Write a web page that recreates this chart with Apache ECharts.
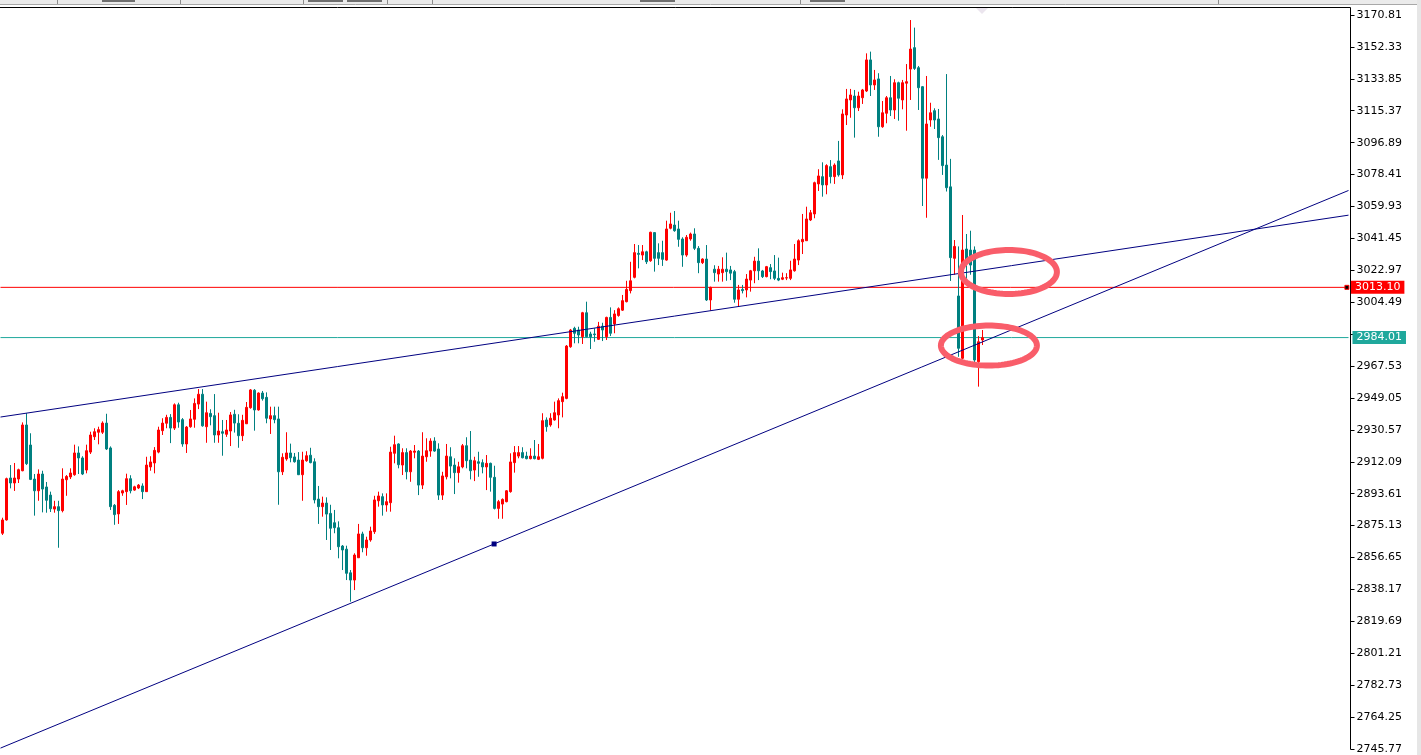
<!DOCTYPE html>
<html>
<head>
<meta charset="utf-8">
<script src="https://cdn.jsdelivr.net/npm/echarts@6/dist/echarts.min.js"></script>
<style>
html,body{margin:0;padding:0;background:#fff;}
#chart{width:1421px;height:755px;}
</style>
</head>
<body>
<div id="chart"></div>
<script>
// ---- data (hourly bars) ----
const opens = [
2870.7,2878.4,2902.7,2899.8,2902.1,2906.9,2933.4,2921.8,2902.1,2895.3,
2905.0,2897.5,2892.8,2884.7,2886.1,2883.8,2901.7,2903.3,2904.6,2917.2,
2914.3,2907.3,2917.7,2926.6,2929.2,2929.2,2934.5,2920.1,2886.9,2881.9,
2894.0,2894.8,2902.3,2895.7,2896.9,2898.1,2894.8,2909.1,2911.4,2917.7,
2930.1,2934.4,2937.8,2931.6,2945.1,2936.5,2922.4,2932.4,2936.7,2945.5,
2951.2,2932.4,2940.1,2938.8,2927.6,2929.5,2928.0,2929.9,2939.6,2934.4,
2927.2,2934.1,2943.4,2953.5,2942.1,2951.9,2949.4,2936.9,2938.8,2936.9,
2906.3,2913.7,2917.2,2914.9,2913.1,2904.6,2912.7,2915.9,2912.1,2890.5,
2886.1,2888.2,2882.2,2876.8,2873.9,2863.3,2861.5,2847.8,2843.6,2856.5,
2870.3,2862.3,2866.8,2871.6,2889.5,2891.9,2887.1,2888.4,2917.0,2922.4,
2910.2,2917.4,2906.3,2917.6,2918.3,2898.6,2915.0,2918.3,2924.1,2919.5,
2892.8,2903.4,2915.0,2910.2,2905.8,2909.1,2921.4,2913.1,2907.3,2912.1,
2911.6,2909.1,2911.2,2903.1,2885.1,2887.6,2889.0,2894.8,2911.6,2915.4,
2917.4,2915.4,2913.9,2915.4,2913.5,2914.1,2936.3,2933.4,2936.3,2939.2,
2946.9,2948.8,2978.7,2989.4,2988.4,2984.5,2998.4,2986.1,2986.1,2983.0,
2990.6,2984.5,2995.7,2991.9,2996.8,2999.9,3004.8,3011.2,3018.9,3032.8,
3031.8,3033.7,3028.5,3044.8,3033.2,3033.2,3028.9,3047.3,3049.2,3046.9,
3041.1,3031.8,3041.1,3044.0,3035.7,3027.4,3029.5,3005.8,3023.6,3020.8,
3021.6,3023.6,3023.2,3022.2,3006.2,3011.9,3011.6,3017.3,3022.7,3028.3,
3022.6,3019.3,3024.5,3022.6,3018.3,3017.8,3018.5,3018.3,3022.7,3028.9,
3039.5,3040.1,3052.1,3055.6,3073.0,3077.2,3072.4,3083.0,3077.2,3086.3,
3078.2,3112.9,3121.6,3123.9,3117.1,3122.9,3126.8,3144.8,3130.3,3133.8,
3106.1,3113.9,3122.9,3115.8,3131.6,3121.6,3131.3,3139.5,3151.9,3140.3,
3129.3,3076.3,3110.0,3115.4,3110.6,3100.3,3083.9,3071.3,3029.9,3008.1,
2972.0,3035.3,3034.7,3034.7,2970.0,2982.6];
const highs = [
2879.7,2902.9,2910.2,2911.4,2908.1,2934.9,2940.2,2928.6,2905.0,2907.7,
2906.9,2900.4,2894.8,2889.5,2889.5,2908.3,2904.4,2908.3,2922.0,2921.0,
2915.3,2922.0,2929.5,2931.5,2932.4,2935.5,2939.9,2921.0,2887.6,2895.7,
2895.9,2905.2,2904.3,2898.2,2899.2,2899.6,2915.0,2915.3,2920.6,2932.4,
2937.3,2939.3,2939.7,2945.9,2946.3,2937.4,2932.8,2942.1,2948.8,2954.2,
2954.2,2946.9,2942.5,2951.3,2940.5,2936.3,2936.3,2940.9,2942.2,2939.6,
2939.3,2946.7,2954.2,2954.2,2952.3,2953.1,2952.3,2944.0,2944.0,2944.0,
2917.0,2929.2,2922.6,2917.2,2917.7,2917.9,2918.2,2920.2,2914.1,2898.1,
2891.9,2891.5,2887.2,2884.2,2877.6,2863.9,2863.5,2849.4,2859.1,2876.1,
2871.6,2868.7,2874.5,2892.4,2894.8,2893.8,2893.8,2920.8,2927.2,2922.8,
2919.9,2919.9,2918.9,2921.8,2918.9,2929.2,2925.7,2925.7,2926.3,2922.8,
2906.3,2922.4,2920.5,2914.1,2912.1,2922.4,2926.3,2929.9,2915.0,2917.9,
2913.5,2916.0,2911.6,2909.8,2890.0,2890.9,2895.7,2917.0,2921.2,2921.2,
2920.5,2917.9,2919.9,2924.7,2922.4,2940.2,2937.8,2940.2,2946.9,2948.8,
2952.1,2979.7,2989.0,2990.3,2990.3,2998.9,3004.8,2987.4,2989.4,2993.1,
2992.6,2996.1,3001.5,2999.9,3001.5,3008.7,3016.9,3027.9,3038.2,3037.6,
3037.6,3034.3,3045.3,3045.0,3038.6,3040.1,3051.7,3056.3,3057.3,3051.7,
3042.1,3043.4,3044.8,3047.3,3037.0,3029.9,3037.6,3013.5,3025.9,3025.5,
3030.5,3033.2,3025.5,3023.2,3014.5,3014.5,3020.8,3023.2,3030.8,3035.7,
3023.2,3025.5,3026.6,3031.8,3030.3,3021.6,3021.3,3028.5,3038.2,3040.9,
3055.6,3059.8,3057.9,3074.3,3081.5,3085.5,3084.4,3086.8,3084.9,3097.9,
3116.2,3128.0,3128.0,3127.4,3126.4,3128.0,3148.6,3149.6,3139.0,3137.1,
3121.0,3123.9,3135.5,3133.6,3132.2,3133.2,3142.4,3167.9,3163.5,3141.3,
3129.7,3135.5,3120.0,3116.8,3116.4,3101.3,3136.6,3087.5,3040.5,3036.8,
3055.0,3044.0,3045.9,3036.8,2984.9,2988.4];
const lows = [
2869.7,2878.0,2896.7,2895.2,2899.8,2906.6,2910.2,2901.5,2880.9,2889.5,
2882.8,2882.6,2883.0,2882.6,2862.3,2882.8,2892.4,2902.1,2904.0,2905.0,
2904.4,2905.4,2916.6,2924.7,2922.2,2928.2,2918.9,2884.2,2875.6,2876.1,
2892.4,2887.1,2893.8,2895.3,2896.3,2890.5,2894.6,2906.9,2905.4,2917.0,
2927.6,2931.5,2922.9,2930.5,2931.8,2920.8,2917.2,2931.8,2931.8,2942.6,
2932.4,2923.1,2933.2,2923.1,2923.1,2915.6,2926.5,2921.2,2929.0,2920.2,
2924.1,2934.1,2942.8,2930.1,2941.7,2947.5,2934.4,2928.2,2934.4,2887.2,
2904.4,2912.7,2911.8,2911.6,2904.4,2889.5,2912.1,2911.2,2888.0,2876.1,
2880.3,2866.8,2861.0,2870.7,2856.2,2849.4,2843.6,2831.1,2837.8,2856.5,
2859.7,2857.7,2865.8,2870.3,2886.1,2880.9,2883.2,2883.2,2911.2,2908.3,
2904.4,2901.9,2900.5,2914.1,2892.8,2896.3,2912.1,2915.0,2917.9,2890.0,
2890.0,2901.9,2902.5,2893.4,2900.0,2908.3,2908.3,2901.9,2900.9,2903.4,
2905.4,2895.7,2894.8,2884.5,2879.1,2879.1,2888.6,2894.2,2905.8,2914.1,
2914.1,2913.5,2913.5,2913.5,2913.1,2913.5,2929.5,2932.4,2935.9,2931.5,
2937.8,2948.3,2978.1,2980.7,2980.7,2980.3,2984.1,2977.4,2981.6,2982.6,
2982.0,2982.6,2984.9,2986.5,2996.1,2999.4,3004.4,3009.6,3018.3,3024.1,
3028.9,3026.6,3027.9,3022.2,3026.0,3025.5,3028.5,3046.7,3045.3,3036.6,
3025.0,3030.8,3040.1,3034.7,3021.3,3026.6,3005.2,2999.6,3016.4,3016.4,
3016.4,3016.9,3017.3,3004.2,3001.8,3009.6,3007.3,3010.6,3015.5,3017.3,
3018.5,3018.9,3017.8,3017.3,3016.7,3017.3,3017.3,3017.3,3022.2,3026.0,
3032.4,3040.1,3051.5,3053.1,3068.9,3065.6,3067.0,3073.3,3073.0,3077.2,
3075.8,3107.1,3111.3,3099.8,3115.2,3119.3,3126.2,3123.9,3127.4,3100.3,
3105.5,3108.1,3112.3,3110.6,3109.6,3116.2,3103.8,3121.6,3139.0,3115.8,
3060.2,3053.4,3106.1,3104.8,3086.9,3078.2,3068.6,3016.8,3020.4,2972.9,
2971.6,3015.6,3020.4,2969.9,2955.6,2979.7];
const closes = [
2878.4,2902.3,2899.8,2902.7,2907.5,2933.4,2911.0,2901.9,2895.3,2905.0,
2896.3,2889.8,2884.9,2886.1,2883.8,2902.1,2903.6,2905.6,2917.2,2914.3,
2905.0,2918.5,2927.6,2929.5,2930.7,2934.5,2919.5,2886.1,2881.5,2894.8,
2895.3,2902.3,2895.3,2897.6,2898.6,2894.8,2910.2,2912.0,2918.7,2930.5,
2934.5,2937.8,2931.6,2945.1,2935.1,2922.4,2932.2,2936.9,2945.9,2951.2,
2932.9,2940.5,2938.2,2927.6,2929.9,2928.6,2930.5,2939.2,2934.5,2927.2,
2936.1,2943.6,2953.7,2942.1,2951.9,2948.6,2937.3,2938.8,2936.5,2906.3,
2914.7,2917.2,2914.4,2912.1,2904.6,2913.1,2915.6,2911.6,2890.0,2886.1,
2888.2,2881.8,2873.6,2873.9,2862.9,2861.0,2847.5,2843.6,2858.1,2870.3,
2862.3,2866.8,2872.0,2890.0,2892.3,2887.1,2889.0,2917.7,2922.0,2910.4,
2917.4,2906.3,2918.3,2918.3,2898.6,2915.4,2918.5,2924.1,2918.3,2892.8,
2903.9,2915.4,2909.6,2905.8,2909.2,2921.4,2912.7,2906.9,2912.7,2911.2,
2909.1,2911.2,2903.1,2885.1,2889.0,2890.3,2895.3,2912.0,2917.4,2917.4,
2914.4,2913.9,2915.4,2913.9,2915.0,2935.9,2932.4,2937.3,2940.5,2947.5,
2949.8,2979.1,2988.4,2986.5,2985.5,2998.4,2984.5,2984.5,2985.7,2990.6,
2988.4,2995.7,2986.5,2997.7,3000.7,3005.4,3011.9,3016.9,3033.2,3032.2,
3033.7,3027.9,3045.0,3029.9,3029.9,3029.3,3046.9,3049.8,3045.9,3040.9,
3031.8,3042.1,3044.0,3035.7,3027.4,3029.5,3005.8,3013.1,3021.6,3023.6,
3023.6,3022.2,3021.3,3006.2,3011.6,3011.2,3017.9,3022.7,3028.3,3022.7,
3019.3,3025.1,3022.2,3018.3,3017.3,3018.7,3018.7,3023.2,3029.5,3040.1,
3040.9,3052.7,3056.3,3073.7,3077.6,3072.4,3083.6,3077.2,3083.9,3078.2,
3113.5,3122.2,3124.5,3117.1,3123.9,3127.4,3144.8,3130.3,3133.2,3106.1,
3114.2,3122.9,3115.8,3131.6,3122.6,3131.6,3132.2,3151.1,3139.9,3128.7,
3076.3,3107.7,3114.2,3110.0,3099.8,3083.6,3070.8,3030.3,3036.8,2977.8,
3034.7,3027.8,3026.0,2971.0,2981.6,2984.0];

// price-axis ticks
const tickMin = 2745.77, tickMax = 3170.81, tickStep = 18.48;
const hiddenTickLabels = ['2986.01']; // covered by the bid label
// horizontal price lines
const askPrice = 3013.10, bidPrice = 2984.01;
// trend lines: [bar index, price]
const flatLineX = [-0.5, 336.5], flatLineP = [2938.0, 3054.9];
const steepLineX = [-0.5, 122.9, 336.5], steepLineP = [2746.3, 2864.5, 3069.2];
// highlight ellipses (centre as bar index / price)
const ellipseX = [251.6, 246.6], ellipseP = [3022.0, 2979.4];

const slotCount = 337; // visible bar slots incl. empty right margin
const categories = Array.from({length: slotCount}, (_, i) => String(i));
const candleData = opens.map((o, i) => [o, closes[i], lows[i], highs[i]]);
const xEnds = [-0.5, slotCount - 0.5];

const UP = '#ff0000', DOWN = '#008080', NAVY = '#000080', BIDC = '#1fa89c';
const FONT = 'DejaVu Sans';

const chart = echarts.init(document.getElementById('chart'), null, {renderer: 'canvas'});

function priceLine(price, color, endMark) {
  return {
    type: 'line', xAxisIndex: 1, yAxisIndex: 0, silent: true, symbol: 'none', z: 1,
    lineStyle: {color: color, width: 1},
    data: xEnds.map((x, i) => (endMark && i === 1)
      ? {value: [x - 0.4, price], symbol: 'rect', symbolSize: 4,
         itemStyle: {color: '#000', borderColor: color, borderWidth: 1}}
      : [x, price]),
    endLabel: {show: true, distance: 4, color: '#fff', backgroundColor: color,
      fontFamily: FONT, fontSize: 11, lineHeight: 11, padding: [1, 4, 1, 4],
      formatter: () => price.toFixed(2)}
  };
}

const option = {
  animation: false,
  backgroundColor: '#ffffff',
  grid: {left: 0.5, right: 72.5, top: 15, bottom: 6, containLabel: false},
  xAxis: [
    {type: 'category', data: categories, boundaryGap: true, show: false},
    {type: 'value', min: xEnds[0], max: xEnds[1], show: false}
  ],
  yAxis: {
    type: 'value', position: 'right', offset: 2,
    min: tickMin, max: tickMax, interval: tickStep,
    axisLine: {show: true, onZero: false, lineStyle: {color: '#000', width: 1}},
    axisTick: {show: true, length: 4, lineStyle: {color: '#000', width: 1}},
    axisLabel: {color: '#000', fontFamily: FONT, fontSize: 11, margin: 6,
      formatter: v => hiddenTickLabels.includes(v.toFixed(2)) ? '' : v.toFixed(2)},
    splitLine: {show: false}
  },
  series: [
    priceLine(askPrice, UP, true),
    priceLine(bidPrice, BIDC, false),
    {
      type: 'candlestick',
      xAxisIndex: 0, yAxisIndex: 0, z: 2,
      data: candleData,
      barWidth: 2,
      silent: true,
      itemStyle: {color: UP, color0: DOWN, borderColor: UP, borderColor0: DOWN, borderWidth: 1}
    },
    {
      type: 'line', xAxisIndex: 1, yAxisIndex: 0, silent: true, z: 3,
      symbol: 'none',
      lineStyle: {color: NAVY, width: 1},
      data: flatLineX.map((x, i) => [x, flatLineP[i]])
    },
    {
      type: 'line', xAxisIndex: 1, yAxisIndex: 0, silent: true, z: 3,
      symbol: 'none',
      lineStyle: {color: NAVY, width: 1},
      data: steepLineX.map((x, i) => i === 1
        ? {value: [x, steepLineP[i]], symbol: 'rect', symbolSize: 5, itemStyle: {color: NAVY}}
        : [x, steepLineP[i]])
    }
  ]
};
chart.setOption(option);

// window chrome + annotations
const graphics = [
  {type: 'rect', shape: {x: 0, y: 0, width: 1421, height: 4}, style: {fill: '#ebebeb'}, z: 50},
  {type: 'line', shape: {x1: 0, y1: 4.5, x2: 1421, y2: 4.5}, style: {stroke: '#a8a8a8', lineWidth: 1}, z: 50},
  {type: 'line', shape: {x1: 0, y1: 7.5, x2: 1350.5, y2: 7.5}, style: {stroke: '#000', lineWidth: 1}, z: 50},
  {type: 'line', shape: {x1: 1350.5, y1: 7.5, x2: 1350.5, y2: 15}, style: {stroke: '#000', lineWidth: 1}, z: 50},
  {type: 'rect', shape: {x: 1417, y: 0, width: 4, height: 755}, style: {fill: '#e6e6e6'}, z: 50},
  {type: 'polygon', shape: {points: [[976, 8], [988, 8], [982, 14]]}, style: {fill: '#ebe5ee'}, z: 50}
];
[[102, 33], [308, 35], [347, 35], [640, 35], [810, 35]].forEach(t => {
  graphics.push({type: 'rect', shape: {x: t[0], y: 0, width: t[1], height: 2}, style: {fill: '#6e6e6e'}, z: 51});
});
[57, 180, 303, 387, 432, 800, 1218].forEach(x => {
  graphics.push({type: 'line', shape: {x1: x + 0.5, y1: 0, x2: x + 0.5, y2: 4}, style: {stroke: '#8c8c8c', lineWidth: 1}, z: 51});
});
const ellipseR = [[48, 22], [48, 20]];
ellipseX.forEach((x, i) => {
  const c = chart.convertToPixel({seriesIndex: 3}, [x, ellipseP[i]]);
  const pts = [];
  for (let a = 0; a < 96; a++) {
    const t = a / 96 * Math.PI * 2;
    pts.push([c[0] + ellipseR[i][0] * Math.cos(t), c[1] + ellipseR[i][1] * Math.sin(t)]);
  }
  graphics.push({type: 'polygon', shape: {points: pts},
    style: {fill: 'none', stroke: '#f95d6a', lineWidth: 6}, z: 100});
});
chart.setOption({graphic: graphics});
</script>
</body>
</html>
